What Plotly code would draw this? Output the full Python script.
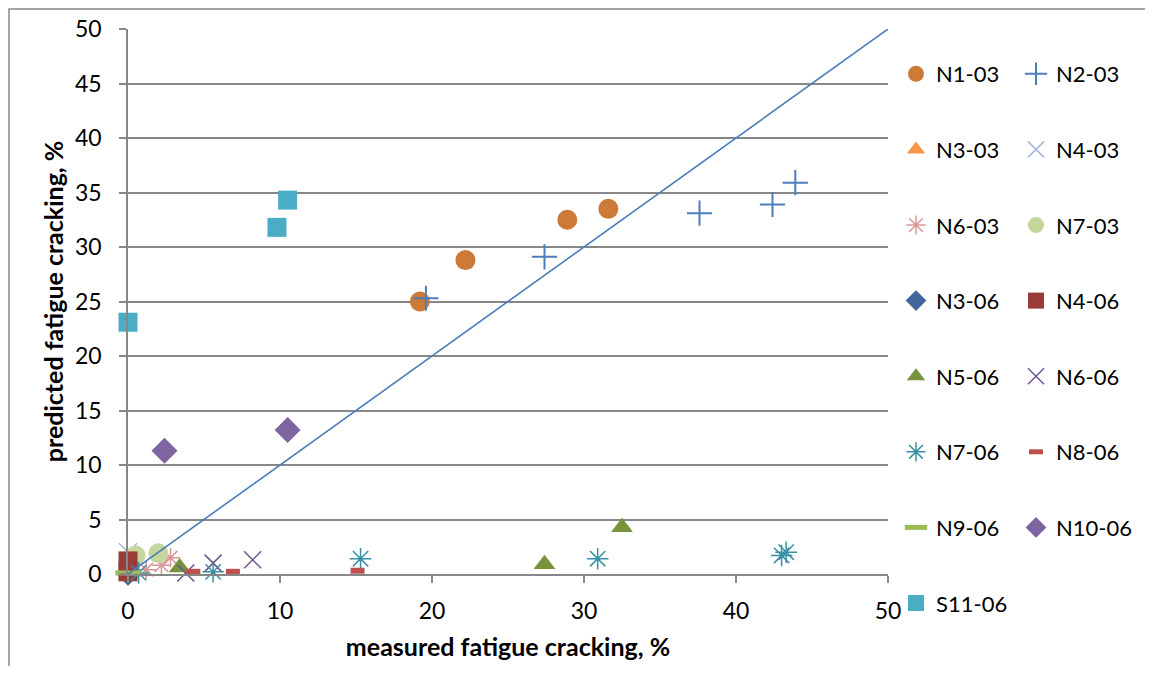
import plotly.graph_objects as go

# measured (x) / predicted (y) fatigue cracking, %
n1_03_x = [19.2, 22.2, 28.9, 31.6]
n1_03_y = [25.0, 28.8, 32.5, 33.5]
n2_03_x = [19.6, 27.4, 37.6, 42.4, 43.9]
n2_03_y = [25.3, 29.1, 33.1, 33.9, 35.9]
n3_03_x = [0.0]
n3_03_y = [0.0]
n4_03_x = [0.0]
n4_03_y = [2.0]
n6_03_x = [1.2, 2.2, 2.8]
n6_03_y = [0.4, 0.8, 1.5]
n7_03_x = [0.5, 2.0]
n7_03_y = [1.7, 1.9]
n3_06_x = [0.0]
n3_06_y = [0.0]
n4_06_x = [0.0, 0.0]
n4_06_y = [0.2, 1.2]
n5_06_x = [3.4, 27.4, 32.5]
n5_06_y = [0.6, 0.9, 4.3]
n6_06_x = [3.8, 5.6, 8.2]
n6_06_y = [0.1, 1.0, 1.3]
n7_06_x = [0.7, 5.6, 15.3, 30.9, 43.0, 43.3]
n7_06_y = [0.1, 0.2, 1.4, 1.4, 1.7, 2.0]
n8_06_x = [4.3, 6.9, 15.1]
n8_06_y = [0.2, 0.2, 0.3]
n9_06_x = [0.0]
n9_06_y = [0.1]
n10_06_x = [2.4, 10.5]
n10_06_y = [11.3, 13.2]
s11_06_x = [0.0, 9.8, 10.5]
s11_06_y = [23.1, 31.8, 34.3]
line_x = [0, 50]
line_y = [0, 50]

FONT = 'Lato'
GRID = '#878787'

# page body has an 8px margin, so the figure is drawn 8px smaller
W, H = 1137, 658
L, R, T, B = 120, 257, 2, 30
gs_h = H - T - B
y_dom = [(H - B - 566) / gs_h, (H - B - 21) / gs_h]

series = [
    ('N1-03', n1_03_x, n1_03_y, 'circle', '#CB7A37', 20, 0, 'legend'),
    ('N2-03', n2_03_x, n2_03_y, 'cross-thin-open', '#4A7EBB', 18, 2, 'legend2'),
    ('N3-03', n3_03_x, n3_03_y, 'triangle-up', '#F79646', 18, 0, 'legend'),
    ('N4-03', n4_03_x, n4_03_y, 'x-thin-open', '#A5B6D9', 18, 1.5, 'legend2'),
    ('N6-03', n6_03_x, n6_03_y, 'asterisk-open', '#D99694', 16, 1.5, 'legend'),
    ('N7-03', n7_03_x, n7_03_y, 'circle', '#C3D69B', 20, 0, 'legend2'),
    ('N3-06', n3_06_x, n3_06_y, 'diamond', '#3F679B', 18, 0, 'legend'),
    ('N4-06', n4_06_x, n4_06_y, 'square', '#983B39', 19, 0, 'legend2'),
    ('N5-06', n5_06_x, n5_06_y, 'triangle-up', '#77933C', 19, 0, 'legend'),
    ('N6-06', n6_06_x, n6_06_y, 'x-thin-open', '#6F5490', 17, 1.5, 'legend2'),
    ('N7-06', n7_06_x, n7_06_y, 'asterisk-open', '#3690A6', 18, 1.5, 'legend'),
    ('N8-06', n8_06_x, n8_06_y, 'line-ew-open', '#C0504D', 10, 6, 'legend2'),
    ('N9-06', n9_06_x, n9_06_y, 'line-ew-open', '#9BBB59', 18, 5, 'legend'),
    ('N10-06', n10_06_x, n10_06_y, 'diamond', '#8064A2', 20, 0, 'legend2'),
    ('S11-06', s11_06_x, s11_06_y, 'square', '#4BACC6', 19, 0, 'legend'),
]

fig = go.Figure()

for name, xs, ys, sym, col, sz, lw, leg in series:
    fig.add_trace(
        go.Scatter(
            name=name, x=xs, y=ys, mode='markers',
            legend=leg, legendgroup=name, cliponaxis=False,
            marker=dict(symbol=sym, size=sz, color=col,
                        line=dict(color=col, width=lw))))

fig.add_trace(
    go.Scatter(x=line_x, y=line_y, mode='lines', showlegend=False,
               line=dict(color='#4A7EBB', width=1.6), cliponaxis=False))

leg_top = (H - B - 45) / gs_h
leg_style = dict(font=dict(family=FONT, size=22, color='black'),
                 tracegroupgap=44,
                 bgcolor='rgba(0,0,0,0)', yanchor='top', xanchor='left', y=leg_top)

fig.update_layout(
    width=W, height=H,
    margin=dict(l=L, r=R, t=T, b=B, autoexpand=False),
    plot_bgcolor='white', paper_bgcolor='white',
    font=dict(family=FONT, size=22, color='black'),
    legend=dict(x=(888 - L) / 760, **leg_style),
    legend2=dict(x=(1008 - L) / 760, **leg_style),
    xaxis=dict(range=[0, 50], dtick=10, showgrid=False, zeroline=False,
               showline=True, linecolor=GRID, linewidth=1.5,
               ticks='outside', ticklen=7, tickcolor=GRID, tickwidth=1.5,
               ticklabelstandoff=9,
               tickfont=dict(family=FONT, size=23),
               title=dict(text='<b>measured fatigue cracking, %</b>',
                          font=dict(family=FONT, size=25), standoff=15)),
    yaxis=dict(range=[0, 50], dtick=5, domain=y_dom,
               showgrid=True, gridcolor=GRID, gridwidth=1.5, zeroline=False,
               showline=True, linecolor=GRID, linewidth=1.5,
               ticks='outside', ticklen=7, tickcolor=GRID, tickwidth=1.5,
               ticklabelstandoff=13,
               tickfont=dict(family=FONT, size=23),
               title=dict(text='<b>predicted fatigue cracking, %</b>',
                          font=dict(family=FONT, size=25), standoff=4)),
    shapes=[dict(type='rect', xref='paper', yref='paper',
                 x0=(1 - L) / 760, x1=(1250 - L) / 760,
                 y0=(H - B - 720) / gs_h, y1=(H - B - 1) / gs_h,
                 line=dict(color=GRID, width=1.5), layer='below')],
)

fig.write_html("out.html")
